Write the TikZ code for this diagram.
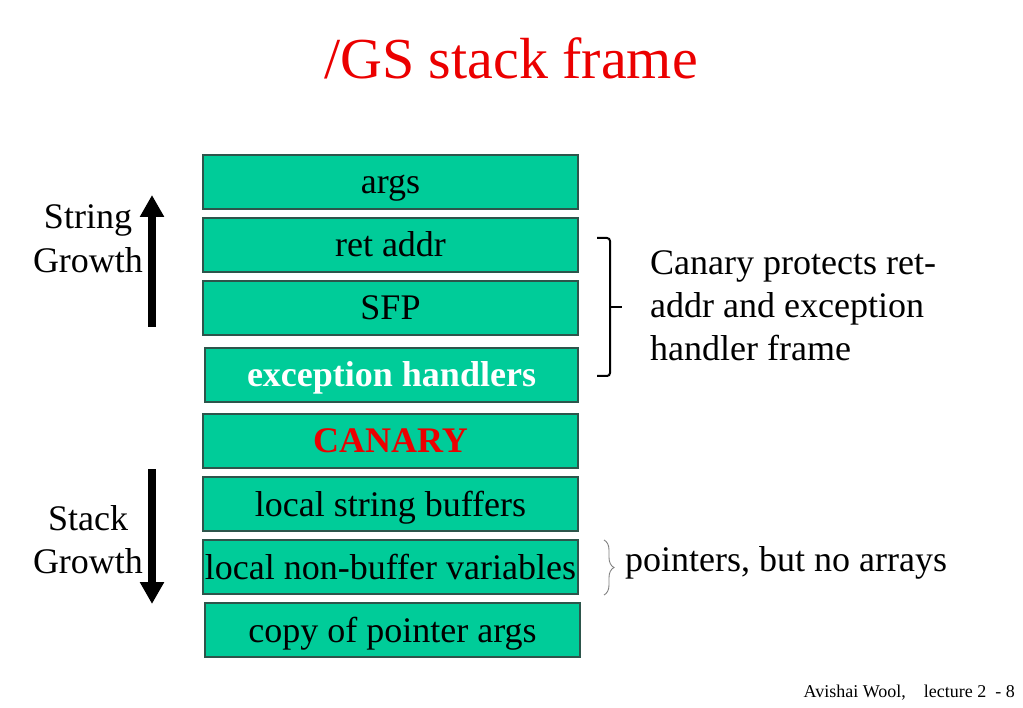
\documentclass[tikz,border=0pt]{standalone}
\usepackage{fontspec}
\setmainfont{Liberation Serif}
\usetikzlibrary{arrows.meta,decorations.pathreplacing}

\definecolor{slotgreen}{RGB}{0,204,153}
\definecolor{slotedge}{RGB}{45,85,75}
\definecolor{titlered}{RGB}{235,0,0}

\begin{document}
\begin{tikzpicture}[
		x=1pt, y=-1pt,
		every node/.style={inner sep=0pt},
		slot/.style={draw=slotedge, line width=1.2pt, fill=slotgreen,
			minimum width=375pt, minimum height=54pt,
			text height=25pt, text depth=1pt,
			font=\fontsize{36}{43}\selectfont},
		label/.style={font=\fontsize{36}{43}\selectfont},
		growth/.style={line width=7.5pt, -{Triangle[width=23pt,length=22pt]}}
	]
	\useasboundingbox (0, 0) rectangle (1023, 708);

	\node[font=\fontsize{58}{60}\selectfont, text=titlered, anchor=base] (title) at (511, 79) {/GS stack frame};

	% the frame, top to bottom
	\node[slot] (args) at (390.5, 182) {args};
	\node[slot] (ret) at (390.5, 245) {ret addr};
	\node[slot] (sfp) at (390.5, 308) {SFP};
	\node[slot, minimum width=373pt, text=white, font=\fontsize{36}{43}\selectfont\bfseries] (exc) at (391.5, 375) {exception handlers};
	\node[slot, text=titlered, font=\fontsize{36}{43}\selectfont\bfseries] (canary) at (390.5, 441) {CANARY};
	\node[slot] (strbuf) at (390.5, 504) {local string buffers};
	\node[slot] (locals) at (390.5, 567) {local non-buffer variables};
	\node[slot] (ptrargs) at (392.5, 630) {copy of pointer args};

	% growth arrows
	\node[label, anchor=base] (string) at (88, 229) {String};
	\node[label, anchor=base] (sgrowth) at (88, 273) {Growth};
	\coordinate (upfoot) at (152, 327);
	\coordinate (uptip) at (152, 195);
	\draw[growth] (upfoot) -- (uptip);

	\node[label, anchor=base] (stack) at (88, 530) {Stack};
	\node[label, anchor=base] (kgrowth) at (88, 573) {Growth};
	\coordinate (downfoot) at (152, 469);
	\coordinate (downtip) at (152, 604);
	\draw[growth] (downfoot) -- (downtip);

	% bracket over ret addr .. exception handlers
	\coordinate (bt) at (597, 238);
	\coordinate (bb) at (597, 376);
	\coordinate (bm) at (610, 307);
	\coordinate (bn) at (622, 307);
	\draw[line width=2pt, rounded corners=3pt] (bt) -- (610, 238) -- (610, 376) -- (bb);
	\draw[line width=2pt] (bm) -- (bn);
	\node[label, anchor=base west] (note1) at (650, 275) {Canary protects ret-};
	\node[label, anchor=base west] (note2) at (650, 318) {addr and exception};
	\node[label, anchor=base west] (note3) at (650, 361) {handler frame};

	% brace at the locals
	\coordinate (ct) at (604, 540);
	\coordinate (cb) at (604, 595);
	\draw[gray, line width=0.9pt, decorate, decoration={brace, amplitude=10pt}] (ct) -- (cb);
	\node[label, anchor=base west] (ptrnote) at (625, 571) {pointers, but no arrays};

	\node[font=\fontsize{18}{20}\selectfont, anchor=base east] (footer) at (1015, 697) {Avishai Wool,\quad lecture 2 \ - 8};
\end{tikzpicture}
\end{document}
